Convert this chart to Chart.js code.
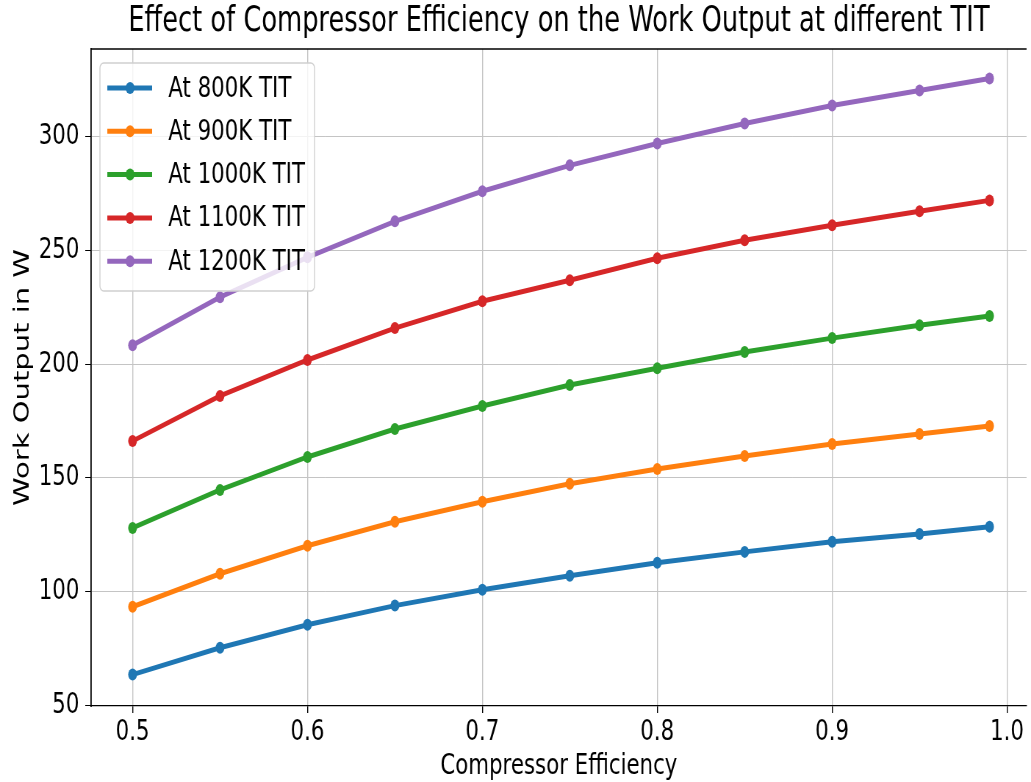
<!DOCTYPE html>
<html>
<head>
<meta charset="utf-8">
<script src="https://cdn.jsdelivr.net/npm/chart.js@4.4.1/dist/chart.umd.min.js"></script>
<style>
    html, body { margin: 0; padding: 0; background: #fff; overflow: hidden; width: 1031px; height: 782px; }
    /* la figura original esta comprimida horizontalmente */
    #wrap { width: 1403px; height: 782px; transform: scaleX(0.73485); transform-origin: 0 0; }
</style>
</head>
<body>
<div id="wrap"><canvas id="chartTrabajo" width="1403" height="782"></canvas></div>
<script>
// ===== Efecto de la eficiencia del compresor =====

const eficiencias = [0.5, 0.55, 0.6, 0.65, 0.7, 0.75, 0.8, 0.85, 0.9, 0.95, 0.99];
const tit800  = [63.6, 75.4, 85.5, 93.9, 100.9, 107.0, 112.7, 117.5, 121.9, 125.4, 128.5];
const tit900  = [93.4, 107.9, 120.2, 130.7, 139.5, 147.4, 153.9, 159.6, 164.9, 169.3, 172.8];
const tit1000 = [128.0, 144.7, 159.2, 171.5, 181.6, 190.8, 198.2, 205.3, 211.4, 217.1, 221.1];
const tit1100 = [166.2, 186.0, 201.8, 215.8, 227.6, 236.8, 246.5, 254.4, 261.0, 267.1, 271.9];
const tit1200 = [208.3, 229.4, 246.9, 262.7, 275.9, 287.3, 296.9, 305.7, 313.6, 320.2, 325.4];
const etiquetas = ['At 800K TIT', 'At 900K TIT', 'At 1000K TIT', 'At 1100K TIT', 'At 1200K TIT'];
const colores = ['#1f77b4', '#ff7f0e', '#2ca02c', '#d62728', '#9467bd'];
const ticksX = [0.5, 0.6, 0.7, 0.8, 0.9, 1.0];
const ticksY = [50, 100, 150, 200, 250, 300];

const fuente = "'DejaVu Sans', sans-serif";

function puntos(valores) {
    return eficiencias.map((x, i) => ({ x: x, y: valores[i] }));
}

const series = [tit800, tit900, tit1000, tit1100, tit1200];

// Leyenda dentro del area del grafico y marco superior
const leyendaInterna = {
    id: 'leyendaInterna',
    afterDraw(chart) {
        const ctx = chart.ctx;
        const area = chart.chartArea;
        ctx.save();
        // marco
        ctx.strokeStyle = '#000';
        ctx.lineWidth = 1.3;
        ctx.beginPath();
        ctx.moveTo(area.left, area.top);
        ctx.lineTo(area.right, area.top);
        ctx.stroke();

        // caja de leyenda
        const bx = area.left + 12, by = area.top + 14, bw = 292, bh = 228;
        ctx.fillStyle = 'rgba(255,255,255,0.8)';
        ctx.strokeStyle = '#d0d0d0';
        ctx.lineWidth = 1.4;
        ctx.beginPath();
        ctx.roundRect(bx, by, bw, bh, 5);
        ctx.fill();
        ctx.stroke();

        ctx.font = '29px ' + fuente;
        ctx.textBaseline = 'middle';
        chart.data.datasets.forEach((ds, i) => {
            const y = by + 25 + i * 43.3;
            ctx.strokeStyle = ds.borderColor;
            ctx.lineWidth = 5;
            ctx.beginPath();
            ctx.moveTo(bx + 10, y);
            ctx.lineTo(bx + 71, y);
            ctx.stroke();
            ctx.fillStyle = ds.borderColor;
            ctx.beginPath();
            ctx.arc(bx + 41, y, 6, 0, Math.PI * 2);
            ctx.fill();
            ctx.fillStyle = '#000';
            ctx.fillText(ds.label, bx + 93, y + 1);
        });
        ctx.restore();
    }
};

new Chart(document.getElementById('chartTrabajo'), {
    type: 'line',
    data: {
        datasets: series.map((valores, i) => ({
            label: etiquetas[i],
            data: puntos(valores),
            borderColor: colores[i],
            backgroundColor: colores[i],
            borderWidth: 5,
            pointRadius: 6,
            pointBorderWidth: 0,
            tension: 0
        }))
    },
    options: {
        responsive: false,
        animation: false,
        layout: { padding: 0 },
        plugins: {
            legend: { display: false },
            tooltip: { enabled: false },
            title: {
                display: true,
                fullSize: false,
                text: 'Effect of Compressor Efficiency on the Work Output at different TIT',
                color: '#000',
                font: { family: fuente, size: 35, weight: 'normal', lineHeight: 1.2 },
                padding: { top: 1, bottom: 6 }
            }
        },
        scales: {
            x: {
                type: 'linear',
                min: 0.4763,
                max: 1.0112,
                afterBuildTicks: (scale) => { scale.ticks = ticksX.map(v => ({ value: v })); },
                afterFit: (scale) => {
                    scale.height = 76;
                    scale.paddingLeft = 0;
                    scale.paddingRight = 0;
                },
                border: { display: true, color: '#000', width: 1.3 },
                grid: { color: '#c4c4c4', lineWidth: 1.4, tickLength: 7, tickColor: '#000' },
                ticks: {
                    color: '#000',
                    padding: 2,
                    maxRotation: 0,
                    font: { family: fuente, size: 29 },
                    callback: (v) => v.toFixed(1)
                },
                title: {
                    display: true,
                    text: 'Compressor Efficiency',
                    color: '#000',
                    font: { family: fuente, size: 29, lineHeight: 1.1 },
                    padding: { top: 0, bottom: 0 }
                }
            },
            y: {
                type: 'linear',
                min: 49.8,
                max: 338.4,
                afterBuildTicks: (scale) => { scale.ticks = ticksY.map(v => ({ value: v })); },
                afterFit: (scale) => { scale.width = 124; },
                border: { display: true, color: '#000', width: 1.8 },
                grid: { color: '#c4c4c4', lineWidth: 1, tickLength: 8, tickColor: '#000' },
                ticks: {
                    color: '#000',
                    padding: 8,
                    font: { family: fuente, size: 29 }
                },
                title: {
                    display: true,
                    text: 'Work Output in W',
                    color: '#000',
                    font: { family: fuente, size: 29, lineHeight: 1.2 },
                    padding: { top: 14, bottom: 0 }
                }
            }
        }
    },
    plugins: [leyendaInterna]
});
</script>
</body>
</html>
